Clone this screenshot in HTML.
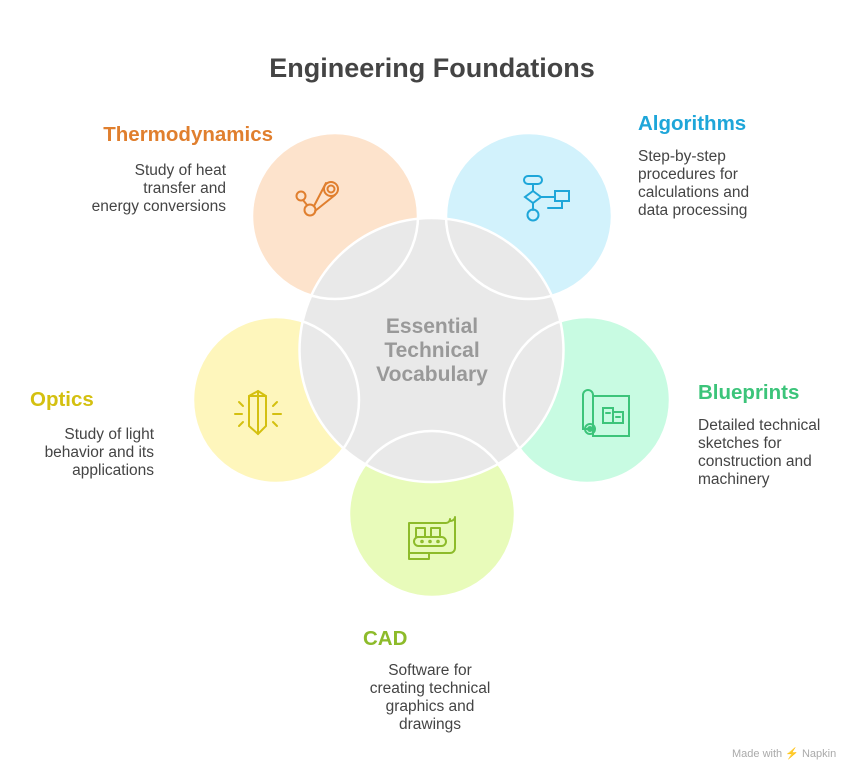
<!DOCTYPE html>
<html><head><meta charset="utf-8"><style>
html,body{margin:0;padding:0;background:#fff;}
svg{display:block;font-family:"Liberation Sans",sans-serif;}
</style></head><body>
<svg width="865" height="780" viewBox="0 0 865 780" xmlns="http://www.w3.org/2000/svg">
<rect width="865" height="780" fill="#fff"/>
<text x="432" y="77" text-anchor="middle" font-size="27" font-weight="bold" fill="#444">Engineering Foundations</text>

<circle cx="335" cy="216" r="83" fill="#FDE3CC"/>
<circle cx="529" cy="216" r="83" fill="#D2F2FC"/>
<circle cx="276" cy="400" r="83" fill="#FEF6BC"/>
<circle cx="587" cy="400" r="83" fill="#C8FBE2"/>
<circle cx="432" cy="514" r="83" fill="#E8FBBA"/>
<circle cx="431.5" cy="350" r="132" fill="#E9E9E9" stroke="#fff" stroke-width="2.5"/>
<g fill="none" stroke="#fff" stroke-width="2.5">
<circle cx="335" cy="216" r="83"/>
<circle cx="529" cy="216" r="83"/>
<circle cx="276" cy="400" r="83"/>
<circle cx="587" cy="400" r="83"/>
<circle cx="432" cy="514" r="83"/>
</g>

<g font-size="21" font-weight="bold" fill="#999" text-anchor="middle">
<text x="432" y="333">Essential</text>
<text x="432" y="357">Technical</text>
<text x="432" y="381">Vocabulary</text>
</g>

<!-- icons -->
<g fill="none" stroke="#E07F2E" stroke-width="2" stroke-linecap="round">
<circle cx="301" cy="196" r="4.5"/><circle cx="310" cy="210" r="5.5"/>
<circle cx="331" cy="189" r="7"/><circle cx="331" cy="189" r="3.5"/>
<line x1="303" y1="200" x2="307" y2="205"/>
<line x1="314" y1="206" x2="326" y2="183"/><line x1="315" y1="211" x2="335" y2="195"/>
</g>
<g fill="none" stroke="#1EA6D9" stroke-width="2" stroke-linecap="round">
<rect x="524" y="176" width="18" height="8" rx="4"/>
<line x1="533" y1="184" x2="533" y2="191"/>
<polygon points="533,191 541,197 533,203 525,197"/>
<line x1="541" y1="197" x2="555" y2="197"/>
<rect x="555" y="191" width="14" height="10"/>
<polyline points="562,201 562,208 548,208"/>
<line x1="533" y1="203" x2="533" y2="210"/>
<circle cx="533" cy="215" r="5.5"/>
</g>
<g fill="none" stroke="#D4C010" stroke-width="2" stroke-linecap="round">
<polygon points="258,391 266,396 266,426 258,434 249,426 249,396"/>
<line x1="258" y1="391" x2="258" y2="434"/><line x1="249" y1="396" x2="266" y2="396"/>
<line x1="235" y1="414" x2="242" y2="414"/><line x1="273" y1="414" x2="281" y2="414"/>
<line x1="239" y1="402" x2="243" y2="406"/><line x1="239" y1="426" x2="243" y2="422"/>
<line x1="277" y1="402" x2="273" y2="406"/><line x1="277" y1="426" x2="273" y2="422"/>
</g>
<g fill="none" stroke="#3CC47A" stroke-width="2" stroke-linecap="round">
<path d="M583 429 V395 a5 5 0 0 1 10 0 V429 Z"/>
<circle cx="590" cy="429" r="5"/><circle cx="590" cy="429" r="2"/>
<rect x="593" y="396" width="36" height="40"/>
<rect x="603" y="408" width="10" height="15"/><rect x="613" y="412" width="10" height="11"/>
<line x1="606" y1="413" x2="610" y2="413"/><line x1="616" y1="417" x2="620" y2="417"/>
</g>
<g fill="none" stroke="#8DBB2A" stroke-width="2" stroke-linecap="round" stroke-linejoin="round">
<path d="M409 553 V523 h37 a4 4 0 0 0 4 -4 v2 c4 0 5 -3 5 -4 V548 a5 5 0 0 1 -5 5 H409 Z"/>
<path d="M409 553 v6 h20 v-6"/>
<rect x="416" y="528" width="9" height="9"/><rect x="431" y="528" width="9" height="9"/>
<rect x="414" y="537" width="32" height="9" rx="4.5"/>
<circle cx="422" cy="541.5" r="0.8"/><circle cx="430" cy="541.5" r="0.8"/><circle cx="438" cy="541.5" r="0.8"/>
</g>

<!-- labels -->
<g font-weight="bold" font-size="20.5">
<text x="273" y="141" text-anchor="end" fill="#E07F2E">Thermodynamics</text>
<text x="638" y="130" fill="#1EA6D9">Algorithms</text>
<text x="30" y="406" fill="#D4C010">Optics</text>
<text x="698" y="399" fill="#3CC47A">Blueprints</text>
<text x="363" y="645" fill="#8DBB2A">CAD</text>
</g>
<g font-size="15.5" fill="#444">
<g text-anchor="end">
<text x="226" y="175">Study of heat</text>
<text x="226" y="193">transfer and</text>
<text x="226" y="211">energy conversions</text>
<text x="154" y="439">Study of light</text>
<text x="154" y="457">behavior and its</text>
<text x="154" y="475">applications</text>
</g>
<text x="638" y="161">Step-by-step</text>
<text x="638" y="179">procedures for</text>
<text x="638" y="197">calculations and</text>
<text x="638" y="215">data processing</text>
<text x="698" y="430">Detailed technical</text>
<text x="698" y="448">sketches for</text>
<text x="698" y="466">construction and</text>
<text x="698" y="484">machinery</text>
<g text-anchor="middle">
<text x="430" y="675">Software for</text>
<text x="430" y="693">creating technical</text>
<text x="430" y="711">graphics and</text>
<text x="430" y="729">drawings</text>
</g>
</g>
<text x="732" y="757" font-size="11" fill="#aaa">Made with ⚡ Napkin</text>
</svg>
</body></html>
